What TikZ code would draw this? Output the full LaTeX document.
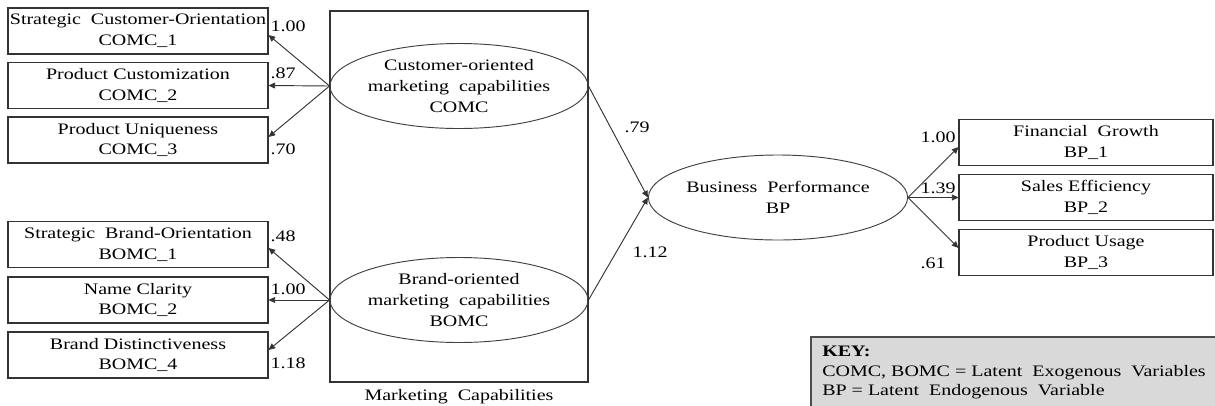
\documentclass[tikz,border=0pt]{standalone}
\usepackage{fontspec}
\setmainfont{Liberation Serif}[FakeStretch=1.25]
\usetikzlibrary{arrows.meta,shapes.geometric}

\begin{document}
\begin{tikzpicture}[x=0.75pt,y=-0.75pt,
  every node/.style={font=\fontsize{12}{15.5}\selectfont, text=black},
  indicator/.style={draw=black!80, line width=0.8pt, minimum width=195pt,
    minimum height=34.5pt, inner sep=0pt, align=center},
  latent/.style={ellipse, draw=black!75, line width=0.7pt, minimum width=193.5pt,
    minimum height=63.75pt, inner sep=0pt, align=center},
  link/.style={draw=black!80, line width=0.7pt, -{Triangle[length=5pt,width=4.5pt]}},
  weight/.style={inner sep=0pt},
  group/.style={draw=black!80, line width=0.8pt, minimum width=193.5pt,
    minimum height=278.25pt, inner sep=0pt},
  keybox/.style={draw=black!70, fill=black!15, line width=0.8pt}
]
\useasboundingbox (0,0) rectangle (1215,405);
\clip (0,0) rectangle (1215,405);

% grouping frame for the two exogenous constructs
\node[group] (mc) at (459,196.5) {};
\node (mclabel) at (459,397) {Marketing\ \ Capabilities};

% latent variables
\node[latent] (COMC) at (459,86) {Customer-oriented\\marketing\ \ capabilities\\COMC};
\node[latent] (BOMC) at (459,300) {Brand-oriented\\marketing\ \ capabilities\\BOMC};
\node[latent] (BP) at (778,197.5) {Business\ \ Performance\\BP};

% indicators of COMC
\node[indicator] (C1) at (138,31) {Strategic\ \ Customer-Orientation\\COMC\_1};
\node[indicator] (C2) at (138,85.5) {Product Customization\\COMC\_2};
\node[indicator] (C3) at (138,140) {Product Uniqueness\\COMC\_3};

% indicators of BOMC
\node[indicator] (B1) at (138,244.5) {Strategic\ \ Brand-Orientation\\BOMC\_1};
\node[indicator] (B2) at (138,300) {Name Clarity\\BOMC\_2};
\node[indicator] (B3) at (138,355) {Brand Distinctiveness\\BOMC\_4};

% indicators of BP
\node[indicator, minimum width=190.5pt] (P1) at (1086,142.5) {Financial\ \ Growth\\BP\_1};
\node[indicator, minimum width=190.5pt] (P2) at (1086,197.5) {Sales Efficiency\\BP\_2};
\node[indicator, minimum width=190.5pt] (P3) at (1086,252.5) {Product Usage\\BP\_3};

% loadings
\draw[link] (COMC.west) -- ([yshift=-3pt]C1.east);
\draw[link] (COMC.west) -- (C2.east);
\draw[link] (COMC.west) -- ([yshift=2.25pt]C3.east);
\draw[link] (BOMC.west) -- ([yshift=-2.6pt]B1.east);
\draw[link] (BOMC.west) -- (B2.east);
\draw[link] (BOMC.west) -- ([yshift=3.75pt]B3.east);
\draw[link] (BP.east) -- ([yshift=-3.4pt]P1.west);
\draw[link] (BP.east) -- (P2.west);
\draw[link] (BP.east) -- ([yshift=3.4pt]P3.west);

% structural paths
\draw[link] (COMC.east) -- (BP.west);
\draw[link] (BOMC.east) -- (BP.west);

% coefficients
\node[weight] (wc1) at (288,26) {1.00};
\node[weight] (wc2) at (283,73) {.87};
\node[weight] (wc3) at (283,149) {.70};
\node[weight] (wb1) at (283,236) {.48};
\node[weight] (wb2) at (288,289) {1.00};
\node[weight] (wb3) at (288,363) {1.18};
\node[weight] (wcp) at (637,127) {.79};
\node[weight] (wbp) at (650,252) {1.12};
\node[weight] (wp1) at (938,137) {1.00};
\node[weight] (wp2) at (938,188) {1.39};
\node[weight] (wp3) at (933,263) {.61};

% key
\draw[keybox] (811,337) rectangle (1240,430);
\node[anchor=west, align=left, inner sep=0pt, font=\fontsize{12}{14.6}\selectfont] (key) at (822,372.5)
  {\textbf{KEY:}\\COMC, BOMC = Latent\ \ Exogenous\ \ Variables\\BP = Latent\ \ Endogenous\ \ Variable};
\end{tikzpicture}
\end{document}
